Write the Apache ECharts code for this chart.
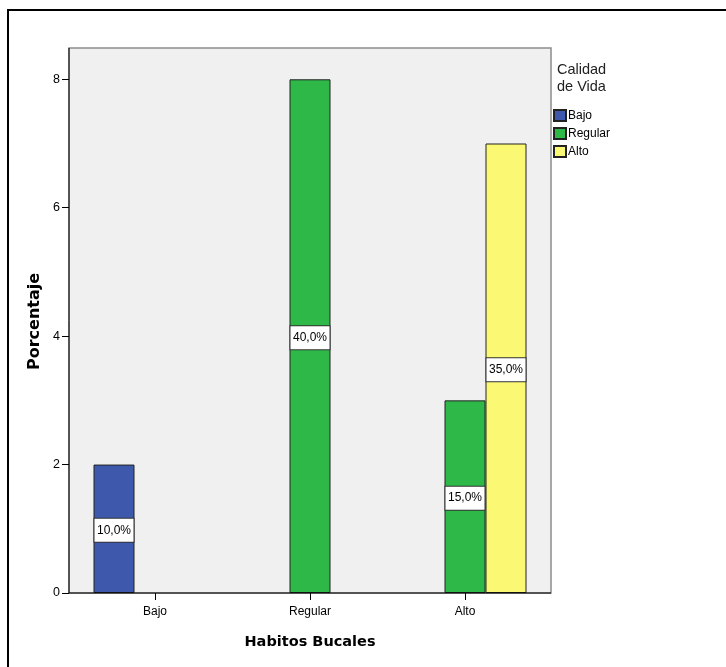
<!DOCTYPE html>
<html>
<head>
<meta charset="utf-8">
<script src="https://cdn.jsdelivr.net/npm/echarts@6/dist/echarts.min.js"></script>
<style>
  html, body { margin: 0; padding: 0; background: #ffffff; }
  #chart { width: 726px; height: 667px; }
</style>
</head>
<body>
<div id="chart"></div>
<script>
// Habitos Bucales (categories) grouped by Calidad de Vida
const categories = ['Bajo', 'Regular', 'Alto'];
const seriesNames = ['Bajo', 'Regular', 'Alto'];
const bajoValues = [2, null, null];
const regularValues = [null, 8, 3];
const altoValues = [null, null, 7];
const seriesColors = ['#3E58AC', '#2EB848', '#FBF873'];

const allValues = [bajoValues, regularValues, altoValues];
const total = allValues.flat().reduce((s, v) => s + (v || 0), 0);

function pctLabel(v) {
  return (v / total * 100).toFixed(1).replace('.', ',') + '%';
}

// plot frame (a bit wider and taller than the axis area, as in SPSS output)
const plotLeft = 69, plotRight = 551, plotTop = 48, plotBottom = 593;
const axisTop = 79.3;

const chart = echarts.init(document.getElementById('chart'), null, { renderer: 'canvas' });

const series = allValues.map((vals, i) => ({
  name: seriesNames[i],
  type: 'bar',
  data: vals,
  barWidth: 41,
  barGap: '0%',
  itemStyle: { color: seriesColors[i], borderColor: '#222', borderWidth: 1 },
  label: {
    show: true,
    position: 'inside',
    offset: [0, 1.5],
    formatter: p => pctLabel(p.value),
    color: '#000',
    fontFamily: 'Liberation Sans, Arial, sans-serif',
    fontSize: 12,
    backgroundColor: '#ffffff',
    borderColor: '#333',
    borderWidth: 1,
    width: 39,
    height: 23,
    lineHeight: 23,
    align: 'center',
    padding: 0
  }
}));

chart.setOption({
  animation: false,
  title: {
    text: 'Calidad\nde Vida',
    left: 557,
    top: 61,
    textStyle: {
      fontFamily: 'Liberation Sans, Arial, sans-serif',
      fontSize: 14.5,
      fontWeight: 'normal',
      color: '#222',
      lineHeight: 17
    },
    padding: 0
  },
  legend: {
    orient: 'vertical',
    left: 553,
    top: 109,
    itemWidth: 12,
    itemHeight: 11,
    itemGap: 5,
    icon: 'rect',
    padding: 0,
    data: seriesNames,
    textStyle: {
      fontFamily: 'Liberation Sans, Arial, sans-serif',
      fontSize: 12,
      color: '#000',
      padding: [0, 0, 0, -3]
    }
  },
  grid: {
    left: 77.5,
    right: 726 - 542.5,
    top: axisTop,
    bottom: 667 - plotBottom
  },
  xAxis: {
    type: 'category',
    data: categories,
    axisLine: { show: false },
    axisTick: { show: true, alignWithLabel: true, length: 7, lineStyle: { color: '#000' } },
    axisLabel: {
      fontFamily: 'Liberation Sans, Arial, sans-serif',
      fontSize: 12,
      color: '#000',
      margin: 13
    },
    name: 'Habitos Bucales',
    nameLocation: 'middle',
    nameGap: 42,
    nameTextStyle: {
      fontFamily: 'DejaVu Sans, sans-serif',
      fontWeight: 'bold',
      fontSize: 14.5,
      color: '#000'
    }
  },
  yAxis: {
    type: 'value',
    min: 0,
    max: 8,
    interval: 2,
    offset: 8.5,
    splitLine: { show: false },
    axisLine: { show: false },
    axisTick: { show: true, length: 7, lineStyle: { color: '#000' } },
    axisLabel: {
      fontFamily: 'Liberation Sans, Arial, sans-serif',
      fontSize: 12.5,
      color: '#000',
      margin: 9
    }
  },
  graphic: [
    {
      type: 'rect',
      z: -10,
      shape: { x: plotLeft, y: plotTop, width: plotRight - plotLeft, height: plotBottom - plotTop },
      style: { fill: '#f0f0f0', stroke: '#8c8c8c', lineWidth: 1.5 }
    },
    {
      type: 'polyline',
      z: 10,
      shape: { points: [[plotLeft, plotTop], [plotLeft, plotBottom], [plotRight, plotBottom]] },
      style: { stroke: '#000', lineWidth: 1, fill: null }
    },
    {
      type: 'text',
      z: 10,
      x: 35,
      y: (plotTop + plotBottom) / 2 + 1,
      rotation: Math.PI / 2,
      style: {
        text: 'Porcentaje',
        fontFamily: 'DejaVu Sans, sans-serif',
        fontWeight: 'bold',
        fontSize: 16,
        fill: '#000',
        align: 'center',
        verticalAlign: 'middle'
      }
    },
    {
      type: 'polyline',
      z: 10,
      shape: { points: [[8, 667], [8, 10], [726, 10]] },
      style: { stroke: '#000', lineWidth: 2, fill: null }
    }
  ],
  series: series
});
</script>
</body>
</html>
